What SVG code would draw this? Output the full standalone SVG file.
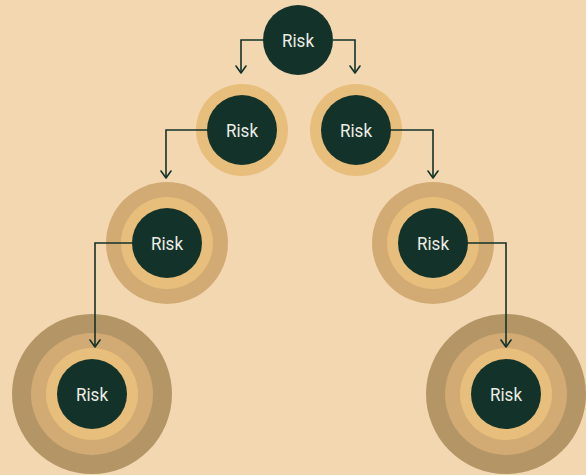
<svg xmlns="http://www.w3.org/2000/svg" width="586" height="475" viewBox="0 0 586 475">
<defs>
<style>
.core{fill:#13332A}
.r1{fill:#E8BE7C}
.r2{fill:#D2AA73}
.r3{fill:#B49566}
.lbl{font-family:Roboto,"Liberation Sans",sans-serif;font-size:19px;fill:#EDEDE6;text-anchor:middle;dominant-baseline:central}
.edge{fill:none;stroke:#13332A;stroke-width:1.6;stroke-linejoin:miter}
.head{fill:none;stroke:#13332A;stroke-width:1.6;stroke-linecap:round;stroke-linejoin:round}
</style>
</defs>
<rect width="586" height="475" fill="#F2D7B1"/>
<g id="n1">
<circle class="core" cx="298" cy="40" r="35"/>
<text class="lbl" x="298" y="40" textLength="32" lengthAdjust="spacingAndGlyphs">Risk</text>
</g>
<g id="n2">
<circle class="r1" cx="242" cy="130" r="46"/>
<circle class="core" cx="242" cy="130" r="35"/>
<text class="lbl" x="242" y="130" textLength="32" lengthAdjust="spacingAndGlyphs">Risk</text>
</g>
<g id="n3">
<circle class="r1" cx="356" cy="130" r="46"/>
<circle class="core" cx="356" cy="130" r="35"/>
<text class="lbl" x="356" y="130" textLength="32" lengthAdjust="spacingAndGlyphs">Risk</text>
</g>
<g id="n4">
<circle class="r2" cx="167" cy="243" r="61"/>
<circle class="r1" cx="167" cy="243" r="46"/>
<circle class="core" cx="167" cy="243" r="35"/>
<text class="lbl" x="167" y="243" textLength="32" lengthAdjust="spacingAndGlyphs">Risk</text>
</g>
<g id="n5">
<circle class="r2" cx="433" cy="243" r="61"/>
<circle class="r1" cx="433" cy="243" r="46"/>
<circle class="core" cx="433" cy="243" r="35"/>
<text class="lbl" x="433" y="243" textLength="32" lengthAdjust="spacingAndGlyphs">Risk</text>
</g>
<g id="n6">
<circle class="r3" cx="92" cy="394" r="80"/>
<circle class="r2" cx="92" cy="394" r="61"/>
<circle class="r1" cx="92" cy="394" r="46"/>
<circle class="core" cx="92" cy="394" r="35"/>
<text class="lbl" x="92" y="394" textLength="32" lengthAdjust="spacingAndGlyphs">Risk</text>
</g>
<g id="n7">
<circle class="r3" cx="506" cy="394" r="80"/>
<circle class="r2" cx="506" cy="394" r="61"/>
<circle class="r1" cx="506" cy="394" r="46"/>
<circle class="core" cx="506" cy="394" r="35"/>
<text class="lbl" x="506" y="394" textLength="32" lengthAdjust="spacingAndGlyphs">Risk</text>
</g>
<g id="connectors">
<path class="edge" d="M264 40 H241 V73"/>
<path class="head" d="M236 66 L241 73 L246 66"/>
<path class="edge" d="M333 40 H355 V73"/>
<path class="head" d="M350 66 L355 73 L360 66"/>
<path class="edge" d="M208 130 H166 V178"/>
<path class="head" d="M161 171 L166 178 L171 171"/>
<path class="edge" d="M390 130 H433 V178"/>
<path class="head" d="M428 171 L433 178 L438 171"/>
<path class="edge" d="M133 243 H95 V347"/>
<path class="head" d="M90 340 L95 347 L100 340"/>
<path class="edge" d="M467 243 H506 V347"/>
<path class="head" d="M501 340 L506 347 L511 340"/>
</g>
</svg>
